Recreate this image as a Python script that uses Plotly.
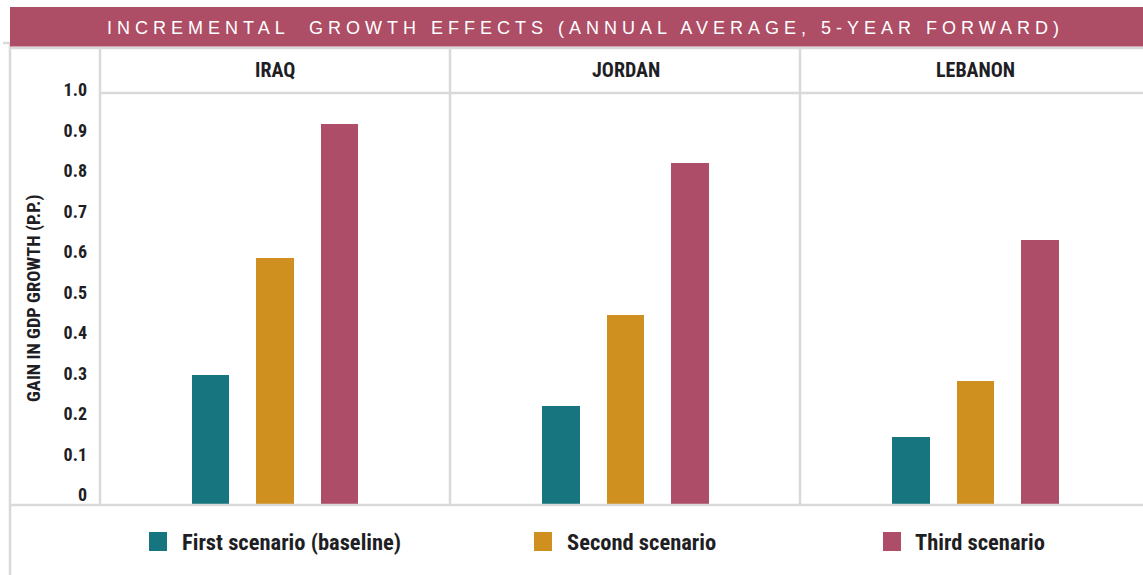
import plotly.graph_objects as go

# ---- data ----
countries = ["IRAQ", "JORDAN", "LEBANON"]
scenarios = ["First scenario (baseline)", "Second scenario", "Third scenario"]
iraq = [0.32, 0.61, 0.94]
jordan = [0.245, 0.47, 0.845]
lebanon = [0.167, 0.305, 0.655]
tick_vals = [0, 0.1, 0.2, 0.3, 0.4, 0.5, 0.6, 0.7, 0.8, 0.9, 1.0]
tick_text = ["0", "0.1", "0.2", "0.3", "0.4", "0.5", "0.6", "0.7", "0.8", "0.9", "1.0"]
title_text = "INCREMENTAL  GROWTH EFFECTS (ANNUAL AVERAGE, 5-YEAR FORWARD)"
y_title = "GAIN IN GDP GROWTH (P.P.)"

# ---- styling ----
W, H = 1143, 575
colors = ["#177580", "#D09020", "#AE4D67"]
band = "#AE4D66"
rule = "#D9D9D9"
ink = "#1E1E24"
cond = "Roboto Condensed, Liberation Sans Narrow, DejaVu Sans Condensed, Roboto, sans-serif"


def px(x):
    return x / W


def py(y):
    return 1 - y / H


panel_px = [(100, 450), (450, 800), (800, 1143)]
bar_center_px = [275, 625.5, 975.5]
unit = 64.5  # pixels between neighbouring bars
y_top_px, y_bot_px = 93, 505
scale = 405.0  # pixels per 1.0

fig = go.Figure()
series = [iraq, jordan, lebanon]
axis_names = ["x", "x2", "x3"]
for i, (name, vals) in enumerate(zip(countries, series)):
    fig.add_trace(go.Bar(
        x=scenarios, y=vals, name=name, xaxis=axis_names[i], yaxis="y",
        marker=dict(color=colors, line=dict(width=0)),
        width=0.574, showlegend=False, hoverinfo="x+y",
    ))

layout = dict(
    width=W, height=H, autosize=False,
    margin=dict(l=0, r=0, t=0, b=0, autoexpand=False),
    paper_bgcolor="white", plot_bgcolor="white",
    showlegend=False,
    bargap=0,
)
for i, (l, r) in enumerate(panel_px):
    c = bar_center_px[i]
    key = "xaxis" if i == 0 else f"xaxis{i + 1}"
    layout[key] = dict(
        domain=[px(l), px(r)], anchor="y",
        type="category", automargin=False,
        range=[1 - (c - l) / unit, 1 + (r - c) / unit],
        showticklabels=False, showgrid=False, zeroline=False,
        showline=False, ticks="", fixedrange=True,
    )
layout["yaxis"] = dict(
    domain=[py(y_bot_px), py(y_top_px)], anchor="x",
    range=[0, (y_bot_px - y_top_px) / scale],
    tickvals=tick_vals, ticktext=tick_text,
    ticks="", showgrid=False, zeroline=False, showline=False,
    automargin=False,
    tickfont=dict(family=cond, size=18, color=ink, weight="bold"),
    ticklabelshift=-10, ticklabelstandoff=12,
    fixedrange=True,
)
fig.update_layout(**layout)

# frame rules and title band
shapes = []


def hline(y, x0, x1, w=2.5):
    shapes.append(dict(type="line", xref="paper", yref="paper",
                       x0=px(x0), x1=px(x1), y0=py(y), y1=py(y),
                       line=dict(color=rule, width=w)))


def vline(x, y0, y1, w=2.5):
    shapes.append(dict(type="line", xref="paper", yref="paper",
                       x0=px(x), x1=px(x), y0=py(y0), y1=py(y1),
                       line=dict(color=rule, width=w)))


hline(43, 3, W)
hline(48, 10, W)
vline(10, 43, H)
for x in (100, 450, 800):
    vline(x, 47, 505)
hline(93, 100, W)
hline(505, 10, W)
shapes.append(dict(type="rect", xref="paper", yref="paper",
                   x0=px(10), x1=1, y0=py(46.5), y1=py(7),
                   fillcolor=band, line=dict(width=0), layer="above"))

# legend swatches
legend_sq_x = [149, 534, 883]
legend_txt_x = [180, 565, 913]
for i, name in enumerate(scenarios):
    shapes.append(dict(type="rect", xref="paper", yref="paper",
                       x0=px(legend_sq_x[i]), x1=px(legend_sq_x[i] + 18),
                       y0=py(551), y1=py(532),
                       fillcolor=colors[i], line=dict(width=0)))

annotations = [
    dict(text=title_text, xref="paper", yref="paper", x=px(585), y=py(28),
         xanchor="center", yanchor="middle", showarrow=False,
         font=dict(family="Liberation Sans, Arial, sans-serif", size=18, color="white")),
    dict(text=y_title, xref="paper", yref="paper", x=px(34), y=py(299),
         xanchor="center", yanchor="middle", textangle=-90, showarrow=False,
         font=dict(family=cond, size=18.5, color=ink, weight="bold")),
]
for i, name in enumerate(countries):
    annotations.append(dict(text=name, xref="paper", yref="paper",
                            x=px(bar_center_px[i]), y=py(70),
                            xanchor="center", yanchor="middle", showarrow=False,
                            font=dict(family=cond, size=20, color=ink, weight="bold")))
for i, name in enumerate(scenarios):
    annotations.append(dict(text=name, xref="paper", yref="paper",
                            x=px(legend_txt_x[i]), y=py(542),
                            xanchor="left", yanchor="middle", showarrow=False,
                            font=dict(family=cond, size=22.5, color=ink, weight="bold")))

fig.update_layout(shapes=shapes, annotations=annotations)

# widen the tracking of the banner heading
post = """
var gd = document.getElementById('{plot_id}');
gd.querySelectorAll('text').forEach(function(t){
  if (t.textContent.indexOf('INCREMENTAL') === 0) {
    t.setAttribute('letter-spacing', '5px');
  }
});
"""
fig.write_html("out.html", post_script=post, config={"responsive": False})
